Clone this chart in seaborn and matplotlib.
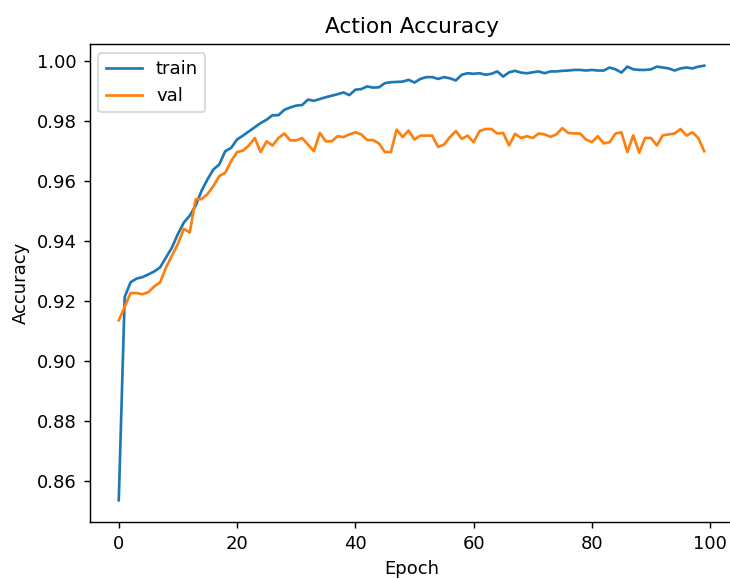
import numpy as np
import pandas as pd
import matplotlib
matplotlib.use("Agg")
import matplotlib.pyplot as plt
import seaborn as sns

epochs = list(range(100))

train_acc = [
    0.8535, 0.9213, 0.9262, 0.9274, 0.9279, 0.9288, 0.9298, 0.9312, 0.9345, 0.9378,
    0.9423, 0.9461, 0.9484, 0.9517, 0.9567, 0.9605, 0.9638, 0.9655, 0.9699, 0.9710,
    0.9738, 0.9751, 0.9765, 0.9779, 0.9793, 0.9804, 0.9819, 0.9819, 0.9837, 0.9845,
    0.9851, 0.9853, 0.9871, 0.9867, 0.9873, 0.9879, 0.9884, 0.9889, 0.9895, 0.9886,
    0.9904, 0.9906, 0.9915, 0.9911, 0.9912, 0.9926, 0.9929, 0.9930, 0.9931, 0.9937,
    0.9928, 0.9940, 0.9946, 0.9946, 0.9940, 0.9946, 0.9942, 0.9935, 0.9954, 0.9959,
    0.9957, 0.9959, 0.9954, 0.9957, 0.9965, 0.9948, 0.9962, 0.9967, 0.9961, 0.9959,
    0.9962, 0.9965, 0.9959, 0.9965, 0.9965, 0.9967, 0.9968, 0.9970, 0.9970, 0.9968,
    0.9970, 0.9968, 0.9968, 0.9978, 0.9972, 0.9961, 0.9981, 0.9972, 0.9970, 0.9970,
    0.9972, 0.9981, 0.9978, 0.9975, 0.9968, 0.9975, 0.9978, 0.9975, 0.9981, 0.9984,
]

val_acc = [
    0.9135, 0.9180, 0.9226, 0.9226, 0.9222, 0.9229, 0.9248, 0.9262, 0.9312, 0.9351,
    0.9390, 0.9440, 0.9428, 0.9539, 0.9539, 0.9556, 0.9583, 0.9616, 0.9627, 0.9666,
    0.9696, 0.9701, 0.9718, 0.9743, 0.9696, 0.9732, 0.9718, 0.9743, 0.9758, 0.9735,
    0.9735, 0.9743, 0.9721, 0.9699, 0.9760, 0.9732, 0.9732, 0.9749, 0.9746, 0.9755,
    0.9762, 0.9755, 0.9736, 0.9736, 0.9725, 0.9696, 0.9696, 0.9771, 0.9746, 0.9768,
    0.9738, 0.9751, 0.9751, 0.9751, 0.9713, 0.9721, 0.9746, 0.9766, 0.9740, 0.9751,
    0.9729, 0.9766, 0.9773, 0.9773, 0.9758, 0.9760, 0.9718, 0.9757, 0.9743, 0.9749,
    0.9743, 0.9758, 0.9755, 0.9747, 0.9755, 0.9776, 0.9760, 0.9758, 0.9758, 0.9738,
    0.9729, 0.9749, 0.9725, 0.9729, 0.9758, 0.9762, 0.9696, 0.9752, 0.9694, 0.9743,
    0.9743, 0.9718, 0.9752, 0.9755, 0.9758, 0.9773, 0.9751, 0.9762, 0.9743, 0.9699,
]

df = pd.DataFrame({"epoch": epochs, "train": train_acc, "val": val_acc})

dpi = 129.4
fig = plt.figure(figsize=(730 / dpi, 579 / dpi), dpi=dpi)
# axes run past the right edge of the canvas, so the right spine falls outside
ax = fig.add_axes([89.5 / 730, 57 / 579, 644 / 730, 478 / 579])
ax.spines["right"].set_visible(False)

colors = sns.color_palette("tab10")
sns.lineplot(data=df, x="epoch", y="train", ax=ax, color=colors[0], label="train", linewidth=1.5)
sns.lineplot(data=df, x="epoch", y="val", ax=ax, color=colors[1], label="val", linewidth=1.5)

ax.set_title("Action Accuracy")
ax.set_xlabel("Epoch")
ax.set_ylabel("Accuracy")
ax.set_xticks([0, 20, 40, 60, 80, 100])
ax.legend(loc="upper left")

fig.savefig("out.png", dpi=dpi)
